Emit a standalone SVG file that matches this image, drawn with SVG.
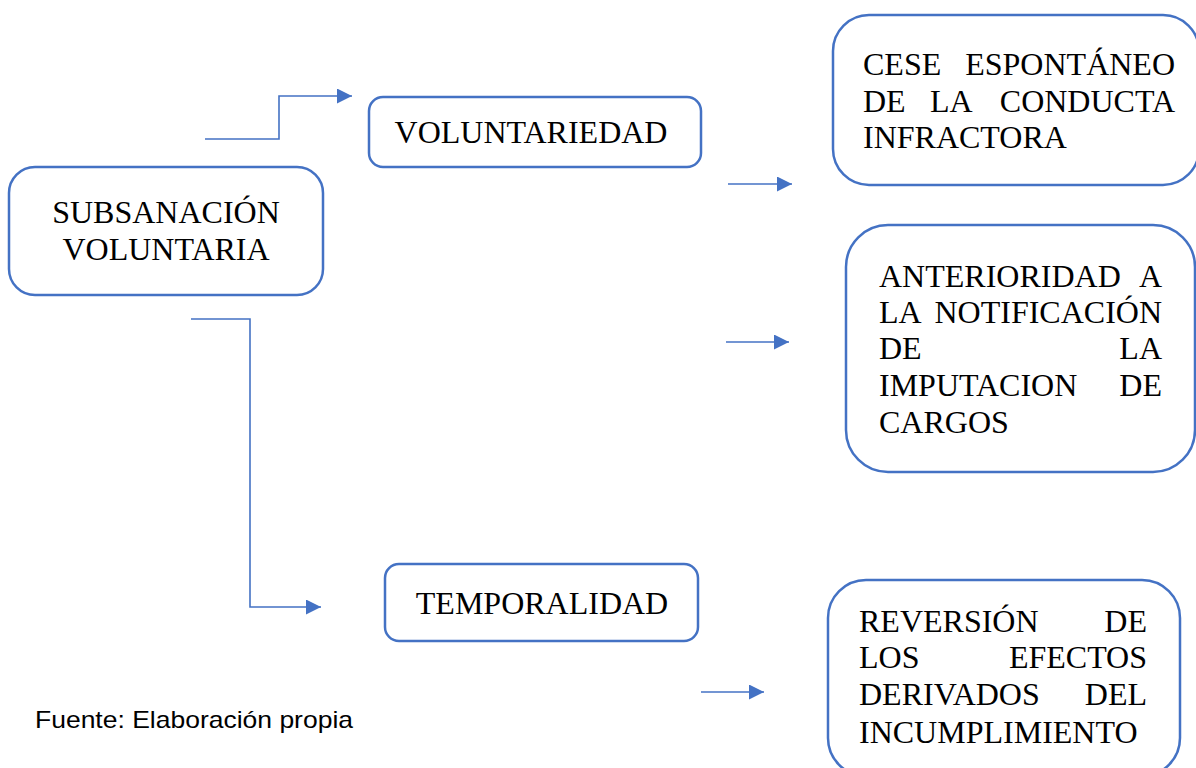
<svg xmlns="http://www.w3.org/2000/svg" width="1196" height="768" viewBox="0 0 1196 768">
<style>
.box{fill:#fff;stroke:#4472C4;stroke-width:2.5}
.t{font-family:"Liberation Serif","Times New Roman",serif;font-size:32px;fill:#000}
.c{fill:none;stroke:#4472C4;stroke-width:1.6}
.e{text-anchor:end}
.m{text-anchor:middle}
</style>
<defs>
<marker id="ah" markerUnits="userSpaceOnUse" markerWidth="16" markerHeight="16" refX="15" refY="7.5" orient="auto">
<path d="M0,0 L15,7.5 L0,15 z" fill="#4472C4"/>
</marker>
</defs>
<rect width="1196" height="768" fill="#fff"/>
<g id="connectors">
<path class="c" d="M205,139 H279 V96 H352" marker-end="url(#ah)"/>
<path class="c" d="M191,319 H250 V607 H321" marker-end="url(#ah)"/>
<path class="c" d="M728,184 H792" marker-end="url(#ah)"/>
<path class="c" d="M726,342 H789" marker-end="url(#ah)"/>
<path class="c" d="M701,692 H764" marker-end="url(#ah)"/>
</g>
<g id="subsanacion">
<rect class="box" x="9" y="167" width="314" height="128" rx="26"/>
<text class="t m" x="166" y="223">SUBSANACIÓN</text>
<text class="t m" x="166" y="260">VOLUNTARIA</text>
</g>
<g id="voluntariedad">
<rect class="box" x="369" y="97" width="332" height="70" rx="14"/>
<text class="t m" x="531" y="143">VOLUNTARIEDAD</text>
</g>
<g id="temporalidad">
<rect class="box" x="385" y="564" width="313" height="77" rx="14"/>
<text class="t m" x="542" y="614">TEMPORALIDAD</text>
</g>
<g id="cese">
<rect class="box" x="833" y="15" width="366" height="170" rx="36"/>
<text class="t" x="863" y="75">CESE</text>
<text class="t e" x="1175" y="75">ESPONTÁNEO</text>
<text class="t" x="863" y="112">DE</text>
<text class="t" x="930" y="112">LA</text>
<text class="t e" x="1175" y="112">CONDUCTA</text>
<text class="t" x="863" y="148">INFRACTORA</text>
</g>
<g id="anterioridad">
<rect class="box" x="846" y="225" width="349" height="247" rx="42"/>
<text class="t" x="879" y="287">ANTERIORIDAD</text>
<text class="t e" x="1162" y="287">A</text>
<text class="t" x="879" y="323">LA</text>
<text class="t e" x="1162" y="323">NOTIFICACIÓN</text>
<text class="t" x="879" y="359">DE</text>
<text class="t e" x="1162" y="359">LA</text>
<text class="t" x="879" y="396">IMPUTACION</text>
<text class="t e" x="1162" y="396">DE</text>
<text class="t" x="879" y="433">CARGOS</text>
</g>
<g id="reversion">
<rect class="box" x="828" y="580" width="352" height="196" rx="38"/>
<text class="t" x="859" y="632">REVERSIÓN</text>
<text class="t e" x="1147" y="632">DE</text>
<text class="t" x="859" y="668">LOS</text>
<text class="t e" x="1147" y="668">EFECTOS</text>
<text class="t" x="859" y="705">DERIVADOS</text>
<text class="t e" x="1147" y="705">DEL</text>
<text class="t" x="859" y="743">INCUMPLIMIENTO</text>
</g>
<g id="fuente">
<text x="35" y="728" font-family="Liberation Sans, Arial, sans-serif" font-size="24" textLength="318" lengthAdjust="spacingAndGlyphs" fill="#000">Fuente: Elaboración propia</text>
</g>
</svg>
